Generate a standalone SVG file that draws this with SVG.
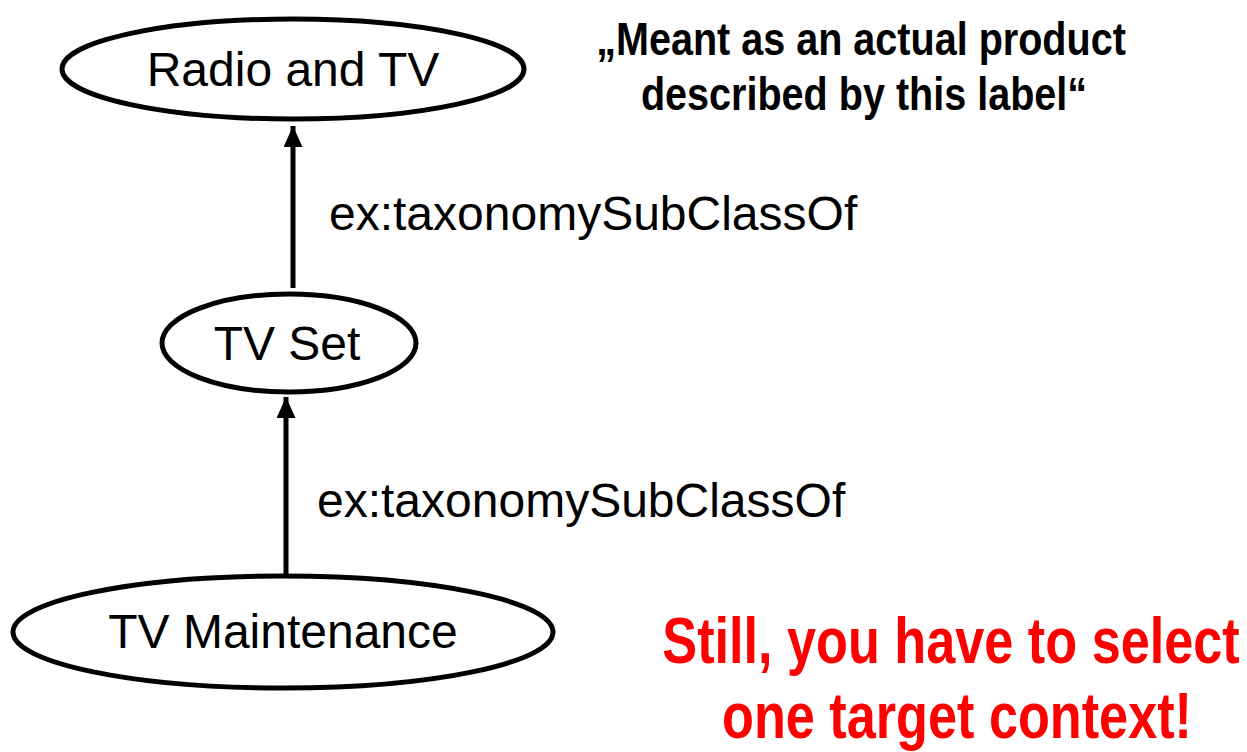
<svg xmlns="http://www.w3.org/2000/svg" width="1247" height="752" viewBox="0 0 1247 752">
<style>
.node ellipse{fill:#fff;stroke:#000;stroke-width:5}
.lbl{font-family:"Liberation Sans",Arial,sans-serif;font-size:48px;fill:#000}
.edge{stroke:#000;stroke-width:5;fill:none}
.note{font-family:"Liberation Sans",Arial,sans-serif;font-weight:bold;text-anchor:middle}
</style>
<defs>
<marker id="ah" markerUnits="userSpaceOnUse" markerWidth="22" markerHeight="20" refX="21" refY="9.5" orient="auto">
<path d="M0,0 L21,9.5 L0,19 Z" fill="#000"/>
</marker>
</defs>
<rect width="1247" height="752" fill="#fff"/>
<g id="connectors">
<line class="edge" x1="293" y1="288" x2="293" y2="126" marker-end="url(#ah)"/>
<line class="edge" x1="286" y1="575" x2="286" y2="397" marker-end="url(#ah)"/>
<text class="lbl" x="329" y="230">ex:taxonomySubClassOf</text>
<text class="lbl" x="317" y="517">ex:taxonomySubClassOf</text>
</g>
<g id="n-radio" class="node">
<ellipse cx="293" cy="69" rx="231" ry="50"/>
<text class="lbl" x="293" y="86" text-anchor="middle">Radio and TV</text>
</g>
<g id="n-tvset" class="node">
<ellipse cx="289" cy="343" rx="127" ry="49"/>
<text class="lbl" x="287" y="360" text-anchor="middle">TV Set</text>
</g>
<g id="n-maint" class="node">
<ellipse cx="283" cy="632" rx="270" ry="56"/>
<text class="lbl" x="283" y="648" text-anchor="middle">TV Maintenance</text>
</g>
<g id="note">
<text class="note" transform="translate(861,55) scale(0.86,1)" font-size="46" fill="#000">„Meant as an actual product</text>
<text class="note" transform="translate(864,110) scale(0.86,1)" font-size="46" fill="#000">described by this label“</text>
</g>
<g id="warning">
<text class="note" transform="translate(951,663) scale(0.816,1)" font-size="64" fill="#f00">Still, you have to select</text>
<text class="note" transform="translate(957,738) scale(0.816,1)" font-size="64" fill="#f00">one target context!</text>
</g>
</svg>
